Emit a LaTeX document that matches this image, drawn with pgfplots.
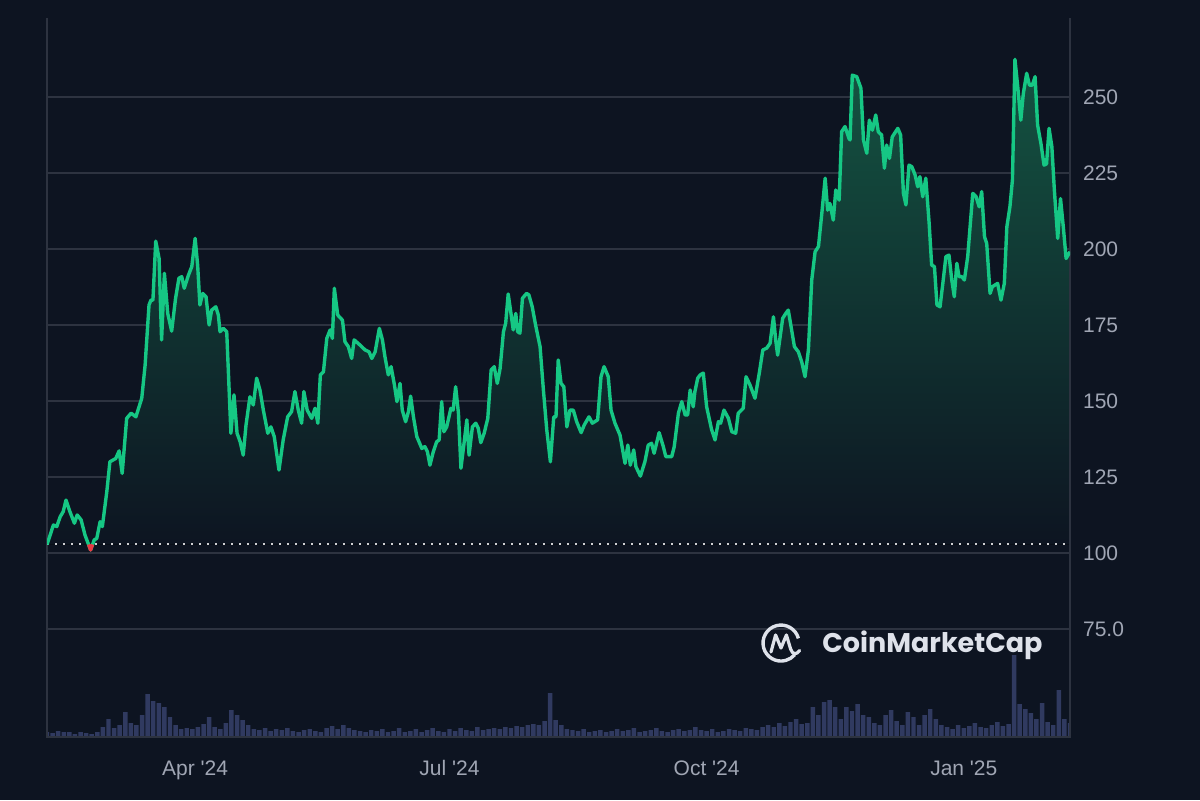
\documentclass[border=0pt]{standalone}
\usepackage{fontspec}
\setmainfont{Liberation Sans}
\newfontfamily\cmcfont{Poppins}
\usepackage{pgfplots}
\pgfplotsset{compat=1.18}
\usepackage{pgfplotstable}
\usepgfplotslibrary{fillbetween}
\definecolor{bg}{RGB}{13,20,33}
\definecolor{cmcgreen}{RGB}{22,199,132}
\definecolor{cmcred}{RGB}{234,57,67}
\definecolor{gridc}{RGB}{45,51,64}
\definecolor{tickc}{RGB}{160,166,180}
\definecolor{volc}{RGB}{48,58,96}
\definecolor{filltop}{RGB}{20,84,66}
\definecolor{wm}{RGB}{222,226,234}
\pagecolor{bg}

\pgfplotstableread{
d v
0 102.8
2.3 109.2
3.5 108.7
4.7 111.9
5.8 113.6
6.8 117.4
8.2 113.6
9.8 109.8
10.8 112.5
12.2 110.9
13.6 105.9
15.6 101.0
16.9 104.3
17.8 104.8
19.0 110.3
19.8 108.7
21.4 120.2
22.5 130.0
24.6 131.1
25.8 133.6
26.9 126.2
28.5 144.3
30.1 146.0
31.8 144.8
33.9 150.9
35.1 161.8
36.5 181.6
37.2 183.2
37.9 183.2
38.9 202.6
40.1 196.9
41.0 170.1
42.0 192.0
43.2 178.8
44.6 173.0
46.0 183.8
47.2 190.4
48.2 190.9
49.1 187.1
50.6 191.4
51.8 194.2
53.0 203.5
53.9 194.7
54.7 181.6
55.7 185.4
56.9 184.3
58.0 175.0
58.9 179.9
60.4 181.0
61.3 178.3
61.9 172.8
63.1 173.9
64.3 172.8
65.8 139.4
66.9 152.0
68.0 139.4
69.1 136.6
70.2 132.2
71.2 142.1
72.6 151.4
73.8 148.7
75.0 157.5
76.2 153.6
77.4 147.0
79.0 139.4
80.1 141.5
81.3 138.3
83.0 127.3
84.5 137.2
86.1 144.8
87.5 146.5
88.7 153.1
89.9 147.0
91.1 142.7
91.9 153.1
93.1 147.0
94.7 144.3
95.9 147.6
96.9 142.7
97.8 158.6
98.9 159.6
100.1 170.6
101.3 173.4
102.1 170.6
102.8 187.1
104.0 178.3
105.7 176.6
106.6 169.5
107.8 167.9
109.0 164.0
109.9 170.1
112.0 168.4
113.8 166.8
115.2 166.2
116.2 164.0
117.4 166.2
118.9 173.9
120.0 170.1
120.9 164.6
122.1 158.6
123.1 161.3
124.3 155.3
125.2 149.8
126.3 155.8
127.1 147.0
128.3 143.2
129.3 146.5
130.1 151.6
131.1 144.8
132.3 138.3
134.1 134.4
135.2 135.0
136.1 133.3
137.0 128.9
138.2 133.3
139.4 136.6
140.3 137.2
141.2 149.8
142.0 139.9
143.0 141.5
144.5 147.6
145.3 147.0
146.2 154.7
147.2 146.0
148.1 127.9
149.2 136.1
150.2 143.8
151.0 132.2
152.2 141.5
153.4 142.7
154.3 141.0
155.2 136.3
156.4 139.4
157.7 144.3
158.9 160.2
160.0 161.3
161.1 155.8
162.1 160.7
163.3 172.8
164.1 175.6
165.0 185.2
166.0 178.8
166.8 173.4
167.7 178.8
168.4 172.8
169.2 172.3
170.1 183.8
171.6 185.4
172.4 184.9
173.6 181.0
174.8 175.0
176.4 167.9
177.6 153.6
178.8 140.5
180.1 130.0
181.3 144.8
182.1 144.8
182.9 163.5
183.9 155.8
184.9 154.7
186.0 141.5
187.1 147.0
188.3 147.0
189.5 143.2
191.1 139.6
192.2 142.1
193.9 144.8
195.1 142.7
197.0 143.8
198.2 158.0
199.3 161.3
200.8 158.0
201.8 147.0
203.2 142.7
205.0 138.8
206.8 129.5
207.8 135.5
208.7 128.9
209.9 133.9
210.7 128.4
212.3 125.3
213.9 130.0
215.1 135.5
216.3 136.1
217.2 132.8
219.0 139.6
220.5 135.0
221.4 131.7
223.5 131.7
224.4 135.0
225.9 146.0
227.1 149.8
228.3 145.4
229.2 145.4
230.1 153.6
231.2 148.1
231.8 153.1
232.8 157.5
233.7 158.6
234.8 159.2
236.0 148.1
237.8 140.5
239.0 137.2
240.2 143.2
241.0 142.7
242.2 147.0
243.8 144.3
245.0 139.9
246.4 139.4
247.3 146.0
249.1 147.6
250.1 158.0
251.5 155.3
253.3 150.9
254.9 159.6
256.1 166.8
257.5 167.4
258.7 169.0
259.9 177.7
260.7 170.1
261.4 165.1
262.3 171.2
263.2 177.2
264.3 178.8
265.2 179.9
266.2 174.5
267.4 167.9
268.8 166.2
270.0 162.9
271.2 158.0
272.4 166.8
273.6 189.8
274.8 199.1
276.0 200.8
277.2 211.7
278.4 223.3
279.3 212.8
280.1 215.0
281.3 209.5
282.2 219.4
283.4 216.1
284.3 238.6
285.5 240.3
286.9 236.4
287.3 235.9
288.1 257.2
289.7 256.7
291.2 252.9
292.1 235.9
293.3 231.5
294.2 242.4
295.3 239.1
296.5 244.1
297.4 238.6
298.6 237.5
299.6 226.6
300.4 234.2
301.4 229.8
302.4 236.9
304.4 239.7
305.4 237.5
306.4 218.3
307.3 214.5
308.4 227.6
309.4 227.1
310.6 224.3
311.5 220.5
312.3 223.8
313.3 217.2
314.4 223.3
315.6 208.5
316.5 194.7
317.5 194.2
318.4 181.6
319.5 181.0
320.5 188.7
321.6 197.5
322.7 198.0
323.7 189.8
324.6 184.3
325.5 195.3
326.3 190.9
327.3 190.9
328.2 189.8
329.4 197.5
331.2 218.3
332.4 217.2
333.5 213.9
334.4 218.9
335.4 204.1
336.2 201.8
337.4 185.4
338.2 187.6
340.1 188.7
341.3 183.2
342.5 188.7
343.4 207.3
344.5 213.9
345.4 222.7
346.3 262.4
347.3 253.4
348.4 242.4
349.3 251.2
350.5 257.8
351.5 253.9
352.5 253.9
353.5 256.7
354.4 240.8
355.6 234.7
356.7 227.6
357.6 228.0
358.5 239.7
359.5 233.7
360.4 219.4
361.6 203.5
362.6 216.6
363.6 207.3
364.6 196.9
366.0 199.1
}\price

\pgfplotstableread{
d v
0 5
2 4
4 6
6 5
8 5
10 3
12 5
14 4
16 3
18 5
20 10
22 18
24 9
26 12
28 25
30 14
32 12
34 22
36 43
38 36
40 34
42 30
44 20
46 12
48 8
50 9
52 8
54 10
56 13
58 20
60 10
62 8
64 14
66 27
68 22
70 17
72 12
74 8
76 7
78 9
80 6
82 8
84 7
86 9
88 6
90 5
92 7
94 8
96 6
98 5
100 9
102 11
104 8
106 12
108 9
110 7
112 6
114 5
116 7
118 6
120 8
122 5
124 6
126 9
128 5
130 6
132 8
134 5
136 7
138 9
140 6
142 5
144 8
146 6
148 9
150 7
152 6
154 10
156 7
158 8
160 9
162 8
164 10
166 9
168 11
170 10
172 12
174 13
176 12
178 16
180 44
182 17
184 12
186 8
188 7
190 6
192 8
194 5
196 6
198 7
200 5
202 6
204 8
206 6
208 7
210 9
212 5
214 6
216 7
218 9
220 6
222 5
224 7
226 8
228 6
230 7
232 10
234 7
236 6
238 8
240 5
242 6
244 8
246 7
248 6
250 9
252 8
254 7
256 10
258 12
260 10
262 14
264 11
266 15
268 18
270 13
272 14
274 30
276 22
278 35
280 37
282 30
284 18
286 30
288 26
290 33
292 22
294 20
296 14
298 12
300 22
302 27
304 16
306 12
308 25
310 20
312 12
314 22
316 28
318 18
320 12
322 10
324 8
326 12
328 9
330 11
332 14
334 10
336 9
338 12
340 15
342 11
344 13
346 82
348 33
350 28
352 24
354 18
356 34
358 15
360 12
362 47
364 18
366 14
}\vol

\begin{document}%
\begin{tikzpicture}[x=1pt,y=1pt]
\path (0,0) rectangle (600,400);
% volume
\begin{axis}[at={(23.5pt,31.5pt)}, anchor=south west, scale only axis,
  width=511.5pt, height=359.5pt, xmin=0, xmax=366, ymin=0, ymax=719,
  hide axis, ybar, bar width=1.6]
\addplot[draw=none, fill=volc] table[x=d,y=v] {\vol};
\end{axis}
% price
\begin{axis}[at={(23.5pt,31.5pt)}, anchor=south west, scale only axis,
  width=511.5pt, height=359.5pt, xmin=0, xmax=366, ymin=39.47, ymax=276,
  axis line style={draw=none}, clip mode=individual,
  ytick={75,100,125,150,175,200,225,250},
  yticklabels={75.0,100,125,150,175,200,225,250},
  yticklabel pos=right, ymajorgrids, grid style={gridc, line width=0.6pt},
  major tick length=0pt,
  xtick={53,144,236,328},
  xticklabels={Apr \textquotesingle 24, Jul \textquotesingle 24, Oct \textquotesingle 24, Jan \textquotesingle 25},
  /pgf/number format/assume math mode=true,
  tick label style={font=\fontsize{10.5}{12}\selectfont, text=tickc},
  yticklabel style={anchor=west, xshift=3pt},
  xticklabel style={anchor=base, yshift=-19pt},
]
\draw[gridc, line width=0.6pt] (rel axis cs:0,1) -- (rel axis cs:0,0) -- (rel axis cs:1,0) -- (rel axis cs:1,1);
\addplot[name path=price, draw=none] table[x=d,y=v] {\price};
\addplot[name path=base, draw=none] coordinates {(0,102.8) (366,102.8)};
\addplot[top color=filltop, bottom color=bg, draw=none] fill between[of=price and base];
\addplot[white!80!bg, line width=1pt, dash pattern=on 1pt off 3pt] coordinates {(0,102.8) (366,102.8)};
\addplot[cmcgreen, line width=1.7pt, line join=round] table[x=d,y=v] {\price};
\addplot[cmcred, line width=1.7pt, line join=round] coordinates {(14.9,102.8) (15.6,101.0) (16.3,102.8)};
\end{axis}
% watermark
\draw[wm, line width=1.7pt] (399.2,80.8) arc[start angle=15, end angle=320, radius=9];
\draw[wm, line width=1.6pt, line join=round, line cap=round] (385.5,74) -- (387.8,82.5) -- (390.5,76) -- (393.2,82.5) -- (395.3,75.5) .. controls (396.3,72.5) and (398.3,72.5) .. (399.8,74.8);
\node[anchor=base west, text=wm, inner sep=0pt] at (411,74) {\cmcfont\bfseries\fontsize{13.5}{14}\selectfont CoinMarketCap};
\end{tikzpicture}%
\end{document}
